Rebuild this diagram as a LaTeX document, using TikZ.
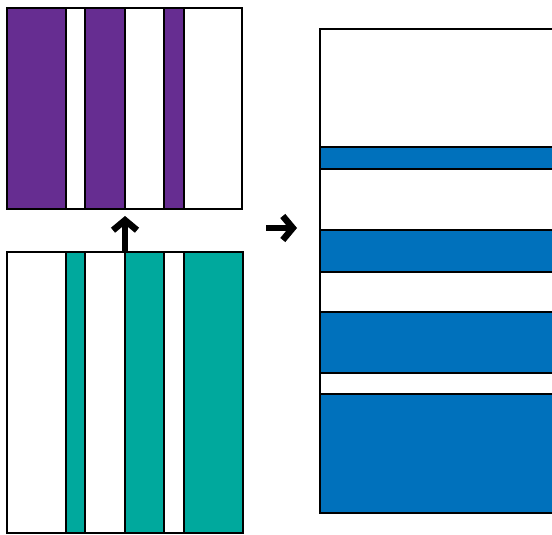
\documentclass[tikz,border=0pt]{standalone}
\usetikzlibrary{arrows.meta}
\definecolor{vpurple}{HTML}{662D91}
\definecolor{vteal}{HTML}{00A99D}
\definecolor{vblue}{HTML}{0071BC}
\begin{document}
\begin{tikzpicture}[x=1pt,y=-1pt,
  edge/.style={draw=black,line width=2pt},
  fat/.style={line width=5.5pt,-{Straight Barb[length=10pt,width=24pt,line width=6.5pt]}}]
\useasboundingbox (0,0) rectangle (552,535);
\clip (0,0) rectangle (552,535);
% top box (purple)
\fill[vpurple] (7,8) rectangle (66,209);
\fill[vpurple] (85,8) rectangle (125,209);
\fill[vpurple] (164,8) rectangle (184,209);
\foreach \x in {66,85,125,164,184} \draw[edge] (\x,8) -- (\x,209);
\draw[edge] (7,8) rectangle (242,209);
% bottom box (teal)
\fill[vteal] (66,252) rectangle (85,533);
\fill[vteal] (125,252) rectangle (164,533);
\fill[vteal] (184,252) rectangle (243,533);
\foreach \x in {66,85,125,164,184} \draw[edge] (\x,252) -- (\x,533);
\draw[edge] (7,252) rectangle (243,533);
% right box (blue)
\fill[vblue] (320,147) rectangle (560,169);
\fill[vblue] (320,230) rectangle (560,272);
\fill[vblue] (320,312) rectangle (560,373);
\fill[vblue] (320,394) rectangle (560,513);
\foreach \y in {147,169,230,272,312,373,394} \draw[edge] (320,\y) -- (560,\y);
\draw[edge] (560,29) -- (320,29) -- (320,513) -- (560,513);
% arrows
\coordinate (ua) at (125,252);
\coordinate (ub) at (125,216);
\coordinate (ra) at (266,228);
\coordinate (rb) at (297,228);
\draw[fat] (ua) -- (ub);
\draw[fat] (ra) -- (rb);
\end{tikzpicture}
\end{document}
